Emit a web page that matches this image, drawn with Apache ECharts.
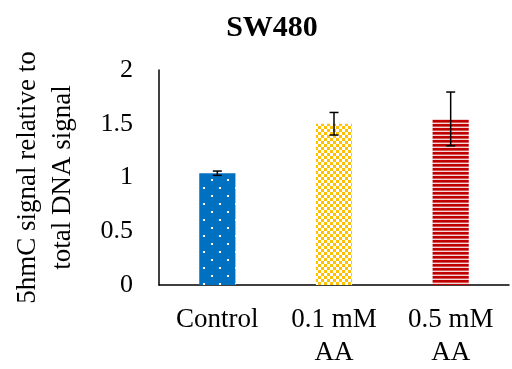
<!DOCTYPE html>
<html><head><meta charset="utf-8">
<script src="https://cdn.jsdelivr.net/npm/echarts@6/dist/echarts.min.js"></script>
<style>html,body{margin:0;padding:0;background:#fff}#c{width:512px;height:369px}</style>
</head><body><div id="c"></div>
<script>
var categories = ['Control', '0.1 mM\nAA', '0.5 mM\nAA'];
var values = [1.04, 1.50, 1.545];
var errors = [0.02, 0.105, 0.25];
var yTicks = [0, 0.5, 1, 1.5, 2];

function pat(w, h, draw) {
  var c = document.createElement('canvas'); c.width = w; c.height = h;
  var g = c.getContext('2d'); draw(g); return {image: c, repeat: 'repeat'};
}
var bluePat = pat(16, 16, function (g) {
  g.fillStyle = '#0070C0'; g.fillRect(0, 0, 16, 16);
  g.fillStyle = '#ffffff'; g.fillRect(3, 3, 2, 2); g.fillRect(11, 11, 2, 2);
});
var yellowPat = pat(6, 6, function (g) {
  g.fillStyle = '#ffffff'; g.fillRect(0, 0, 6, 6);
  g.fillStyle = '#FFC000'; g.fillRect(0, 0, 3, 3); g.fillRect(3, 3, 3, 3);
});
var redPat = pat(4, 4, function (g) {
  g.fillStyle = '#f3d6d6'; g.fillRect(0, 0, 4, 4);
  g.fillStyle = '#C00000'; g.fillRect(0, 0, 4, 2.6);
});
var fills = [bluePat, yellowPat, redPat];

var font = '"Liberation Serif", "Times New Roman", serif';
var chart = echarts.init(document.getElementById('c'));
chart.setOption({
  animation: false,
  title: {text: 'SW480', left: 267, top: 8, textAlign: 'center',
    textStyle: {fontFamily: font, fontSize: 30, fontWeight: 'bold', color: '#000'}},
  grid: {left: 159, right: 3, top: 70, bottom: 83},
  xAxis: {type: 'category', data: categories,
    axisLine: {lineStyle: {color: '#000', width: 1.5}}, axisTick: {show: false},
    axisLabel: {fontFamily: font, fontSize: 27, color: '#000', margin: 18, lineHeight: 33}},
  yAxis: {type: 'value', min: 0, max: 2, interval: 0.5,
    name: '5hmC signal relative to\ntotal DNA signal', nameLocation: 'middle', nameRotate: 90, nameGap: 79,
    nameTextStyle: {fontFamily: font, fontSize: 27, color: '#000', lineHeight: 35},
    axisLine: {show: true, lineStyle: {color: '#000', width: 1.5}}, axisTick: {show: false},
    splitLine: {show: false},
    axisLabel: {fontFamily: font, fontSize: 26, color: '#000', margin: 26,
      formatter: function (v) { return yTicks.indexOf(v) >= 0 ? String(v) : ''; }}},
  series: [
    {type: 'bar', barWidth: '31%',
      data: values.map(function (v, i) { return {value: v, itemStyle: {color: fills[i]}}; })},
    {type: 'custom', z: 10,
      data: values.map(function (v, i) { return [i, v - errors[i], v + errors[i]]; }),
      renderItem: function (params, api) {
        var lo = api.coord([api.value(0), api.value(1)]);
        var hi = api.coord([api.value(0), api.value(2)]);
        var x = lo[0], hw = 4.5;
        var st = {stroke: '#000', lineWidth: 1.5};
        return {type: 'group', children: [
          {type: 'line', shape: {x1: x, y1: lo[1], x2: x, y2: hi[1]}, style: st},
          {type: 'line', shape: {x1: x - hw, y1: lo[1], x2: x + hw, y2: lo[1]}, style: st},
          {type: 'line', shape: {x1: x - hw, y1: hi[1], x2: x + hw, y2: hi[1]}, style: st}
        ]};
      }}
  ]
});
</script></body></html>
